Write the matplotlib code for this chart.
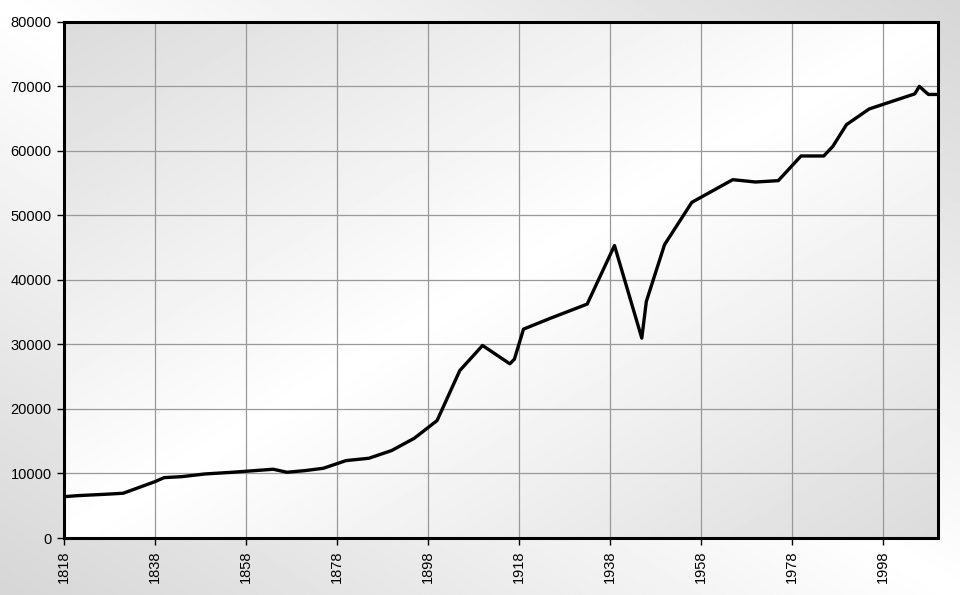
import numpy as np
import matplotlib
matplotlib.use("Agg")
import matplotlib.pyplot as plt

# Datos
years = [1818, 1821, 1827, 1831, 1838, 1840, 1844, 1849, 1855, 1860, 1864,
         1867, 1871, 1875, 1880, 1885, 1890, 1895, 1900, 1905, 1910, 1916,
         1917, 1919, 1925, 1933, 1939, 1945, 1946, 1950, 1956, 1965, 1970,
         1975, 1980, 1985, 1987, 1990, 1995, 2005, 2006, 2008, 2010]
population = [6400, 6560, 6770, 6930, 8730, 9350, 9510, 9920, 10180, 10440, 10650,
              10180, 10440, 10800, 11990, 12350, 13540, 15450, 18190, 25940, 29820, 26980,
              27700, 32350, 34060, 36230, 45300, 30960, 36640, 45430, 51990, 55500, 55140,
              55350, 59170, 59170, 60670, 64030, 66460, 68790, 69950, 68700, 68700]
x_ticks = list(range(1818, 2000, 20))
y_ticks = list(range(0, 80001, 10000))

plt.rcParams['font.family'] = ['Liberation Sans', 'DejaVu Sans']
plt.rcParams['font.size'] = 10.5

fig = plt.figure(figsize=(9.6, 5.95), dpi=100)

# Fondo de la figura: degradado diagonal
bg = fig.add_axes([0, 0, 1, 1], zorder=-10)
gx, gy = np.meshgrid(np.linspace(0, 1, 400), np.linspace(0, 1, 300))
d = np.abs(gx - gy)
bg.imshow(1 - 0.16 * d, cmap='gray', vmin=0, vmax=1, aspect='auto',
          extent=[0, 1, 0, 1], origin='upper')
bg.axis('off')

ax = fig.add_axes([64 / 960, 1 - 538 / 595, (937.5 - 64) / 960, (538 - 21.5) / 595])
s = np.abs(gx + gy - 1)
ax.imshow(1 - 0.14 * s, cmap='gray', vmin=0, vmax=1, aspect='auto',
          extent=[0, 1, 0, 1], origin='upper', transform=ax.transAxes, zorder=0)

ax.plot(years, population, color='black', linewidth=2.4, zorder=3)

ax.set_xlim(1818, 2010)
ax.set_ylim(0, 80000)
ax.set_xticks(x_ticks)
ax.set_yticks(y_ticks)
ax.set_xticklabels([str(t) for t in x_ticks], rotation=90)
ax.set_axisbelow(True)
ax.grid(True, color='#999999', linewidth=0.9)
ax.tick_params(direction='out', length=5, width=1, color='black', pad=4)
for sp in ax.spines.values():
    sp.set_linewidth(2.2)
    sp.set_color('black')

fig.savefig('out.png', dpi=100)
